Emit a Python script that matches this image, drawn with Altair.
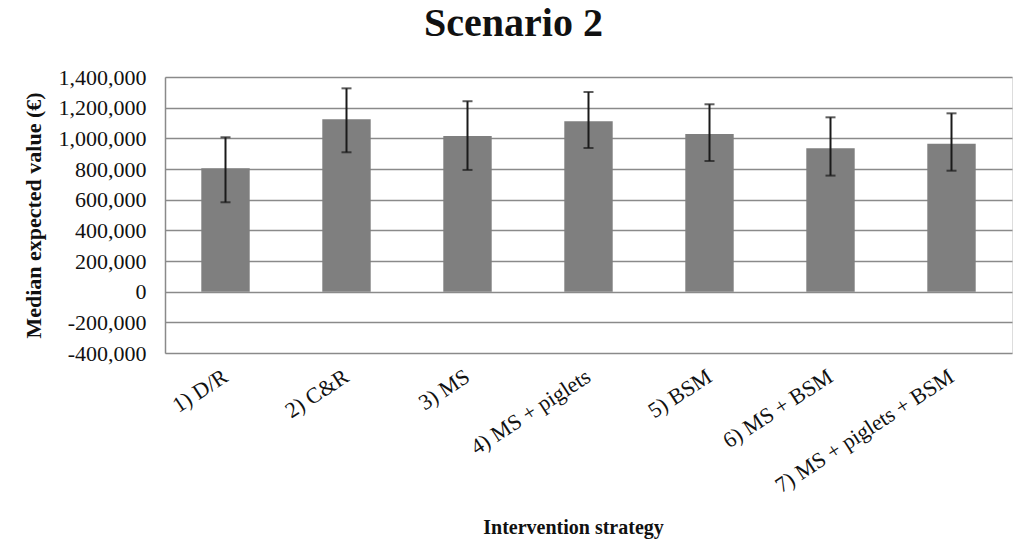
import altair as alt
import pandas as pd

# Median expected value per intervention strategy, with its uncertainty interval (€)
strategies = [
    "1) D/R",
    "2) C&R",
    "3) MS",
    "4) MS + piglets",
    "5) BSM",
    "6) MS + BSM",
    "7) MS + piglets + BSM",
]
median_value = [805000, 1124000, 1015000, 1111000, 1028000, 935000, 965000]
lower_value = [583000, 909000, 794000, 937000, 852000, 757000, 789000]
upper_value = [1007000, 1326000, 1242000, 1302000, 1222000, 1137000, 1163000]

y_ticks = list(range(-400000, 1400001, 200000))

df = pd.DataFrame(
    {
        "strategy": strategies,
        "median": median_value,
        "lower": lower_value,
        "upper": upper_value,
    }
)

SERIF = "Liberation Serif"

x_axis = alt.Axis(
    title="Intervention strategy",
    titleFont=SERIF,
    titleFontSize=20,
    titleFontWeight="bold",
    titleColor="#111111",
    titleX=408,
    titleY=180,
    titleAnchor="start",
    titleAlign="center",
    titleBaseline="alphabetic",
    labelFont=SERIF,
    labelFontSize=22,
    labelColor="#111111",
    labelAngle=-33,
    labelAlign="right",
    labelBaseline="middle",
    labelPadding=21,
    labelOverlap=False,
    labelLimit=0,
    ticks=False,
    domain=False,
    grid=False,
)

y_axis = alt.Axis(
    title="Median expected value (€)",
    titleFont=SERIF,
    titleFontSize=22,
    titleFontWeight="bold",
    titleColor="#111111",
    titleAngle=-90,
    titleX=-132,
    titleY=138,
    titleAlign="center",
    titleBaseline="middle",
    values=y_ticks,
    labelExpr="replace(format(datum.value, ','), '\u2212', '-')",
    labelFont=SERIF,
    labelFontSize=22,
    labelColor="#111111",
    labelPadding=19,
    labelOverlap=False,
    labelFlush=False,
    ticks=False,
    domain=True,
    domainColor="#8a8a8a",
    domainWidth=1.5,
    grid=True,
    gridColor="#8a8a8a",
    gridWidth=1.5,
)

x_scale = alt.Scale(paddingInner=0.6, paddingOuter=0.3)
y_scale = alt.Scale(domain=[-400000, 1400000], nice=False, zero=False)

x_enc = alt.X("strategy:N", sort=strategies, scale=x_scale, axis=x_axis)

bars = (
    alt.Chart(df)
    .mark_bar(color="#7f7f7f")
    .encode(x=x_enc, y=alt.Y("median:Q", scale=y_scale, axis=y_axis))
)

# Error bars: vertical whisker plus caps at both ends
whiskers = (
    alt.Chart(df)
    .mark_rule(color="#1a1a1a", strokeWidth=2)
    .encode(
        x=x_enc,
        y=alt.Y("lower:Q", scale=y_scale, axis=y_axis),
        y2="upper:Q",
    )
)

cap_low = (
    alt.Chart(df)
    .mark_tick(color="#1a1a1a", thickness=2, size=10)
    .encode(x=x_enc, y=alt.Y("lower:Q", scale=y_scale, axis=y_axis))
)

cap_high = (
    alt.Chart(df)
    .mark_tick(color="#1a1a1a", thickness=2, size=10)
    .encode(x=x_enc, y=alt.Y("upper:Q", scale=y_scale, axis=y_axis))
)

chart = (
    alt.layer(bars, whiskers, cap_low, cap_high)
    .properties(
        width=847,
        height=276,
        autosize=alt.AutoSizeParams(type="none"),
        padding={"left": 165, "top": 77, "right": 1, "bottom": 192},
        title=alt.TitleParams(
            "Scenario 2",
            font=SERIF,
            fontSize=40,
            fontWeight="bold",
            color="#111111",
            anchor="middle",
            frame="group",
            dx=-75,
            offset=22,
        ),
    )
    .configure_view(strokeWidth=0, stroke="transparent")
    .configure(background="white")
)

chart.save("out.html", embed_options={"renderer": "svg", "actions": False})
